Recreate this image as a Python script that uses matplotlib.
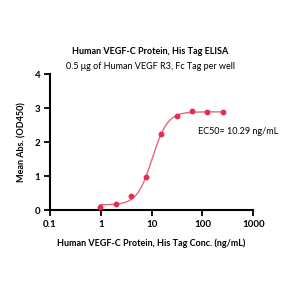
import numpy as np
import matplotlib
matplotlib.use('Agg')
import matplotlib.pyplot as plt

# measured points
conc = [0.98, 1.95, 3.9, 7.8, 15.6, 31.25, 62.5, 125, 250]
od450 = [0.08, 0.18, 0.42, 0.97, 2.25, 2.78, 2.90, 2.88, 2.88]

# 4PL fit parameters (bottom, top, ec50, hill)
fit_params = [0.15, 2.89, 10.29, 2.9]

plt.rcParams['font.family'] = ['Lato', 'DejaVu Sans']

fig = plt.figure(figsize=(3, 3), dpi=100)
ax = fig.add_axes([0.167, 0.30, 0.677, 0.453])

bottom, top, ec50, hill = fit_params
xs = np.logspace(np.log10(conc[0]), np.log10(conc[-1]), 200)
ys = bottom + (top - bottom) / (1 + (ec50 / xs) ** hill)
ax.plot(xs, ys, color='#e8667a', lw=1.0, zorder=2)
ax.plot(conc, od450, 'o', color='#e0304e', ms=3.2, zorder=3)

ax.set_xscale('log')
ax.set_xlim(0.1, 1000)
ax.set_ylim(0, 4)
ax.set_xticks([0.1, 1, 10, 100, 1000])
ax.set_xticklabels(['0.1', '1', '10', '100', '1000'])
ax.xaxis.set_minor_locator(matplotlib.ticker.NullLocator())
ax.set_yticks([0, 1, 2, 3, 4])

for s in ['top', 'right']:
    ax.spines[s].set_visible(False)
for s in ['left', 'bottom']:
    ax.spines[s].set_linewidth(1.5)
ax.tick_params(width=1.3, length=4, labelsize=7, pad=3)
for lbl in ax.get_xticklabels() + ax.get_yticklabels():
    lbl.set_fontweight('bold')

ax.set_xlabel('Human VEGF-C Protein, His Tag Conc. (ng/mL)', fontsize=6.5,
              fontweight='bold', labelpad=7)
ax.set_ylabel('Mean Abs. (OD450)', fontsize=6.5, fontweight='bold', labelpad=6)

ax.text(0.73, 0.56, 'EC50= 10.29 ng/mL', transform=ax.transAxes, fontsize=6.5)

fig.text(0.5, 0.827, 'Human VEGF-C Protein, His Tag ELISA', ha='center',
         va='center', fontsize=6.5, fontweight='bold')
fig.text(0.5, 0.777, '0.5 μg of Human VEGF R3, Fc Tag per well', ha='center',
         va='center', fontsize=6.5)

fig.savefig('out.png', dpi=100)
